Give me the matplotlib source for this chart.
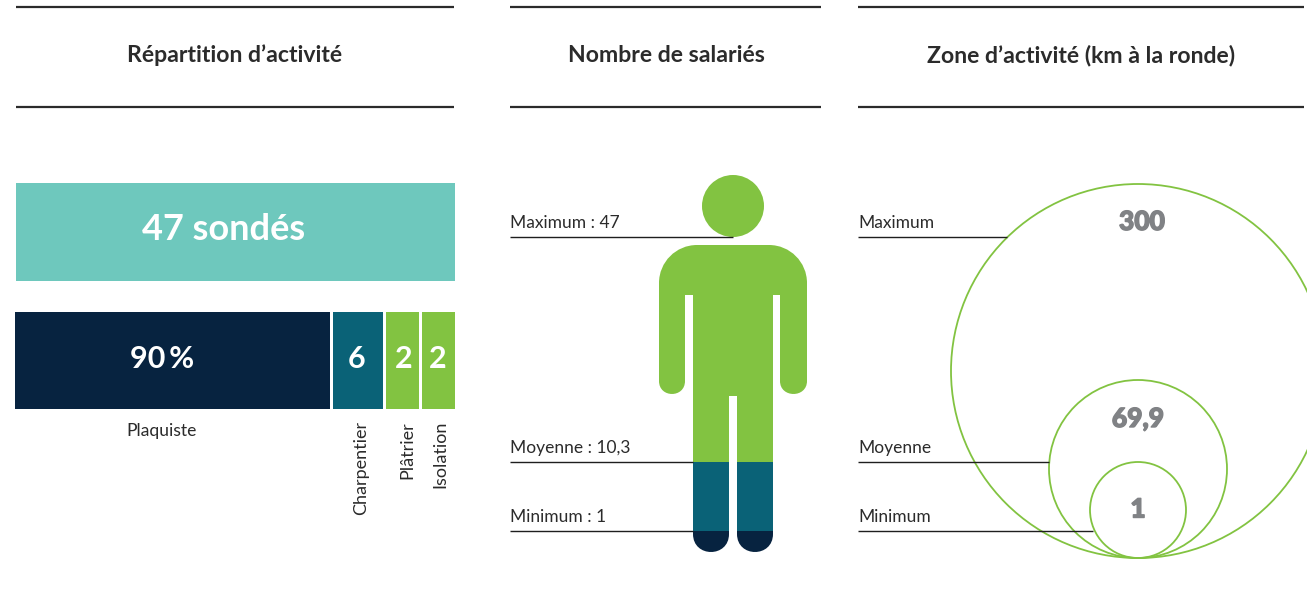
import numpy as np
import matplotlib
matplotlib.use('Agg')
from matplotlib import pyplot as plt
from matplotlib.patches import Circle, PathPatch, Rectangle
from matplotlib.path import Path
import matplotlib.patheffects as pe

plt.rcParams['font.family'] = ['Lato', 'DejaVu Sans']

titles = ['Répartition d’activité', 'Nombre de salariés', 'Zone d’activité (km à la ronde)']

total_label = '47 sondés'
activity_names = ['Plaquiste', 'Charpentier', 'Plâtrier', 'Isolation']
activity_labels = ['90\u2009%', '6', '2', '2']
# the bars are not to scale in the original, these are the drawn widths
activity_widths = [315, 50, 33, 33]

staff_names = ['Maximum : 47', 'Moyenne : 10,3', 'Minimum : 1']
staff_levels = [237, 462, 531]

zone_names = ['Maximum', 'Moyenne', 'Minimum']
zone_labels = ['300', '69,9', '1']
zone_radius = [187, 89, 48]
zone_lines = [237, 462, 531]

NAVY = '#072340'
BLUE = '#0A6277'
GREEN = '#82C341'
TEAL = '#6EC8BD'
INK = '#2B2B2B'
GREY = '#808285'

fig = plt.figure(figsize=(13.07, 6.16), dpi=100)
ax = fig.add_axes([0, 0, 1, 1])
ax.set_xlim(0, 1307)
ax.set_ylim(616, 0)
ax.axis('off')

# headers
columns = [(16, 454), (510, 821), (858, 1304)]
title_x = [235, 666, 1081]
for (x0, x1), title, tx in zip(columns, titles, title_x):
    ax.plot([x0, x1], [7, 7], color=INK, lw=1.6, solid_capstyle='butt')
    ax.plot([x0, x1], [107, 107], color=INK, lw=1.6, solid_capstyle='butt')
    ax.text(tx, 55, title, ha='center', va='center', fontsize=16.6,
            fontweight='bold', color=INK)

# left panel
ax.barh(232, 439, left=16, height=98, color=TEAL)
ax.text(224, 229, total_label, ha='center', va='center', fontsize=26,
        fontweight='bold', color='white')

colors = [NAVY, BLUE, GREEN, GREEN]
text_x = [162, 357, 404, 438]
name_x = [162, 361, 407, 440]
left = 15
for w, c, lab, name, tx, nx in zip(activity_widths, colors, activity_labels,
                                   activity_names, text_x, name_x):
    ax.barh(360.5, w, left=left, height=97, color=c)
    ax.text(tx, 358.5, lab, ha='center', va='center', fontsize=22,
            fontweight='bold', color='white')
    if name == 'Plaquiste':
        ax.text(nx, 431, name, ha='center', va='center', fontsize=12.6, color=INK)
    else:
        ax.text(nx, 421, name, ha='center', va='top', rotation=90, fontsize=13, color=INK)
    left += w + 3

# person, built as one outline and cut into colour bands
verts = [(659, 283), (659, 262), (676, 245), (697, 245), (769, 245), (790, 245),
         (807, 262), (807, 283), (807, 381), (807, 398.3), (780, 398.3), (780, 381),
         (780, 295), (773, 295), (773, 534), (773, 558), (737, 558), (737, 534),
         (737, 396), (729, 396), (729, 534), (729, 558), (693, 558), (693, 534),
         (693, 295), (685, 295), (685, 381), (685, 398.3), (659, 398.3), (659, 381),
         (659, 283)]
codes = [Path.MOVETO, Path.CURVE4, Path.CURVE4, Path.CURVE4, Path.LINETO,
         Path.CURVE4, Path.CURVE4, Path.CURVE4, Path.LINETO,
         Path.CURVE4, Path.CURVE4, Path.CURVE4, Path.LINETO, Path.LINETO,
         Path.LINETO, Path.CURVE4, Path.CURVE4, Path.CURVE4, Path.LINETO,
         Path.LINETO, Path.LINETO, Path.CURVE4, Path.CURVE4, Path.CURVE4,
         Path.LINETO, Path.LINETO, Path.LINETO, Path.CURVE4, Path.CURVE4,
         Path.CURVE4, Path.CLOSEPOLY]
body = PathPatch(Path(verts, codes), facecolor='none', edgecolor='none')
ax.add_patch(body)
bands = [(240, 462, GREEN), (462, 531, BLUE), (531, 560, NAVY)]
for y0, y1, c in bands:
    r = Rectangle((650, y0), 170, y1 - y0, facecolor=c, edgecolor='none')
    ax.add_patch(r)
    r.set_clip_path(body)
ax.add_patch(Circle((733, 206), 31, facecolor=GREEN, edgecolor='none'))

staff_ends = [733, 693, 693]
for name, y, xe in zip(staff_names, staff_levels, staff_ends):
    ax.plot([510, xe], [y, y], color='#1E1E1E', lw=1, solid_capstyle='butt')
    ax.text(510.5, y - 6, name, ha='left', va='bottom', fontsize=12.5, color=INK)

# circles, all sitting on the same bottom point
cx = 1138
bottom = 558
zone_ends = [1007, 1049, 1093]
zone_text_y = [222, 419, 509.5]
zone_text_x = [1142, 1138, 1138]
for name, lab, r, y, xe, ty, tx in zip(zone_names, zone_labels, zone_radius, zone_lines,
                                       zone_ends, zone_text_y, zone_text_x):
    ax.plot([858, xe], [y, y], color='#1E1E1E', lw=1, solid_capstyle='butt')
    ax.add_patch(Circle((cx, bottom - r), r, facecolor='none', edgecolor=GREEN, lw=1.3))
    ax.text(858.5, y - 6, name, ha='left', va='bottom', fontsize=12.5, color=INK)
    t = ax.text(tx, ty, lab, ha='center', va='center', fontsize=19, fontweight='black', color=GREY)
    t.set_path_effects([pe.withStroke(linewidth=1.0, foreground=GREY)])

fig.savefig('out.png', dpi=100)
